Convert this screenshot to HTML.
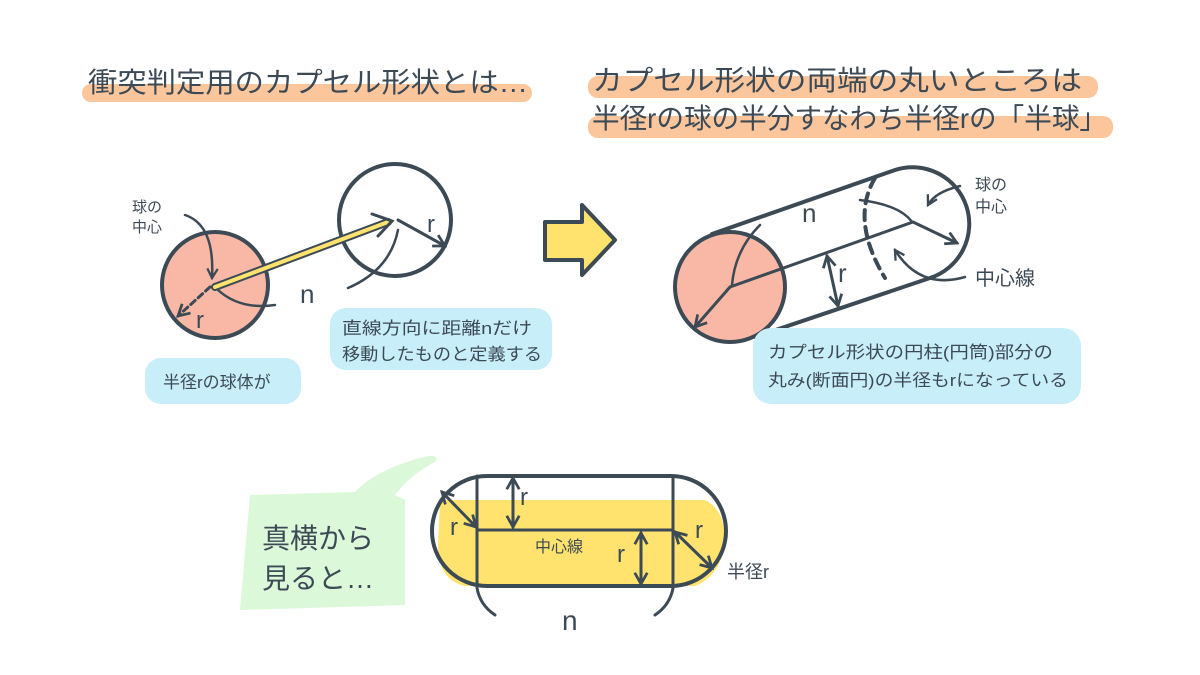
<!DOCTYPE html>
<html><head><meta charset="utf-8"><style>
html,body{margin:0;padding:0;background:#fff;}
svg{display:block}
text{font-family:"Liberation Sans","Noto Sans CJK JP",sans-serif;fill:#3c4a56}
</style></head><body>
<svg width="1200" height="675" viewBox="0 0 1200 675" xmlns="http://www.w3.org/2000/svg">
<defs>
<marker id="ah" viewBox="0 0 12 12" refX="10" refY="6" markerWidth="5" markerHeight="5" orient="auto-start-reverse">
<path d="M1,1 L10,6 L1,11" fill="none" stroke="#3c4a56" stroke-width="2.2"/></marker>
</defs>
<rect width="1200" height="675" fill="#fff"/>
<!-- title highlights -->
<rect x="82" y="84" width="450" height="18" rx="9" fill="#fcc69d"/>
<rect x="588" y="76" width="510" height="22" rx="10" fill="#fcc69d"/>
<rect x="588" y="116" width="525" height="22" rx="10" fill="#fcc69d"/>
<text x="88" y="92" font-size="28" textLength="440" lengthAdjust="spacingAndGlyphs">衝突判定用のカプセル形状とは…</text>
<text x="592" y="90" font-size="28" textLength="490" lengthAdjust="spacingAndGlyphs">カプセル形状の両端の丸いところは</text>
<text x="592" y="128" font-size="28" textLength="515" lengthAdjust="spacingAndGlyphs">半径rの球の半分すなわち半径rの「半球」</text>

<g stroke="#3c4a56" stroke-width="4" fill="none" stroke-linecap="round">
<!-- left sphere -->
<circle cx="215" cy="285" r="53" fill="#f9b8a5"/>
<circle cx="395" cy="220" r="56" fill="#fff"/>
<path d="M215,287 L388,222" stroke="#3c4a56" stroke-width="8"/>
<path d="M215,287 L388,222" stroke="#ffe36e" stroke-width="4"/>
<path d="M372,214 L392,221 L378,236" stroke-width="3"/>
<path d="M210,287 L178,316" stroke-width="3" stroke-dasharray="6,4" marker-end="url(#ah)"/>
<path d="M398,220 L445,246" stroke-width="3" marker-end="url(#ah)"/>
<path d="M185,215 Q215,225 212,278" stroke-width="2.5" marker-end="url(#ah)"/>
<path d="M218,290 Q240,310 275,305" stroke-width="2.5"/>
<path d="M348,288 Q390,270 398,230" stroke-width="2.5"/>
</g>
<text x="132" y="212" font-size="15">球の</text>
<text x="132" y="232" font-size="15">中心</text>
<text x="196" y="328" font-size="24">r</text>
<text x="427" y="232" font-size="24">r</text>
<text x="300" y="303" font-size="26">n</text>
<rect x="330" y="308" width="222" height="62" rx="16" fill="#c8eff9"/>
<text x="342" y="334" font-size="17" textLength="190" lengthAdjust="spacingAndGlyphs">直線方向に距離nだけ</text>
<text x="342" y="360" font-size="17" textLength="200" lengthAdjust="spacingAndGlyphs">移動したものと定義する</text>
<rect x="145" y="358" width="156" height="46" rx="16" fill="#c8eff9"/>
<text x="163" y="388" font-size="17">半径rの球体が</text>

<!-- block arrow -->
<path d="M582,205 L615,240 L582,275 L582,260 L545,260 L545,222 L582,222 Z" fill="#ffe36e" stroke="#3c4a56" stroke-width="4" stroke-linejoin="round"/>

<!-- cylinder -->
<g stroke="#3c4a56" stroke-width="4" fill="none" stroke-linecap="round">
<path d="M712,234 L895,170 A55,55 0 0 1 930,278 L755,337" fill="#fff"/>
<circle cx="730" cy="287" r="55" fill="#f9b8a5"/>
<path d="M875,178 Q850,220 885,278" stroke-dasharray="10,7"/>
<path d="M730,287 L913,222" stroke-width="3"/>
<path d="M913,222 L957,243" stroke-width="3" marker-end="url(#ah)"/>
<path d="M730,287 L695,327" stroke-width="3" marker-end="url(#ah)"/>
<path d="M827,256 L838,306" stroke-width="3" marker-start="url(#ah)" marker-end="url(#ah)"/>
<path d="M760,225 Q735,250 732,285" stroke-width="2.5"/>
<path d="M860,200 Q900,205 912,222" stroke-width="2.5"/>
<path d="M960,186 Q935,192 928,205" stroke-width="2.5" marker-end="url(#ah)"/>
<path d="M965,277 Q920,290 895,250" stroke-width="2.5" marker-end="url(#ah)"/>
</g>
<text x="802" y="222" font-size="26">n</text>
<text x="838" y="282" font-size="26">r</text>
<text x="975" y="190" font-size="16">球の</text>
<text x="975" y="212" font-size="16">中心</text>
<text x="975" y="285" font-size="20">中心線</text>
<rect x="753" y="328" width="328" height="76" rx="18" fill="#c8eff9"/>
<text x="768" y="358" font-size="17" textLength="285" lengthAdjust="spacingAndGlyphs">カプセル形状の円柱(円筒)部分の</text>
<text x="768" y="386" font-size="17" textLength="300" lengthAdjust="spacingAndGlyphs">丸み(断面円)の半径もrになっている</text>

<!-- green bubble -->
<path d="M250,495 L355,492 Q375,470 420,458 Q440,452 435,462 Q410,475 395,495 L405,500 L405,605 L240,610 Z" fill="#dbf8d9"/>
<text x="262" y="548" font-size="28">真横から</text>
<text x="262" y="588" font-size="28">見ると…</text>

<!-- bottom capsule -->
<path d="M470,500 L705,500 Q725,510 725,540 Q722,575 695,586 L465,586 Q438,580 438,545 L440,500 Z" fill="#ffe36e"/>
<g stroke="#3c4a56" stroke-width="4" fill="none" stroke-linecap="round">
<rect x="432" y="476" width="294" height="110" rx="55"/>
<path d="M477,476 L477,586 M673,476 L673,586" stroke-width="3"/>
<path d="M477,530 L673,530" stroke-width="3"/>
<path d="M513,478 L513,527" stroke-width="3" marker-start="url(#ah)" marker-end="url(#ah)"/>
<path d="M641,533 L641,584" stroke-width="3" marker-start="url(#ah)" marker-end="url(#ah)"/>
<path d="M442,492 L476,527" stroke-width="3" marker-start="url(#ah)" marker-end="url(#ah)"/>
<path d="M675,532 L712,568" stroke-width="3" marker-start="url(#ah)" marker-end="url(#ah)"/>
<path d="M477,588 Q480,605 495,615 M673,588 Q670,605 655,615" stroke-width="3"/>
</g>
<text x="520" y="505" font-size="24">r</text>
<text x="450" y="535" font-size="24">r</text>
<text x="617" y="562" font-size="24">r</text>
<text x="695" y="538" font-size="24">r</text>
<text x="535" y="552" font-size="16">中心線</text>
<text x="727" y="578" font-size="18">半径r</text>
<text x="562" y="630" font-size="28">n</text>
</svg>
</body></html>
